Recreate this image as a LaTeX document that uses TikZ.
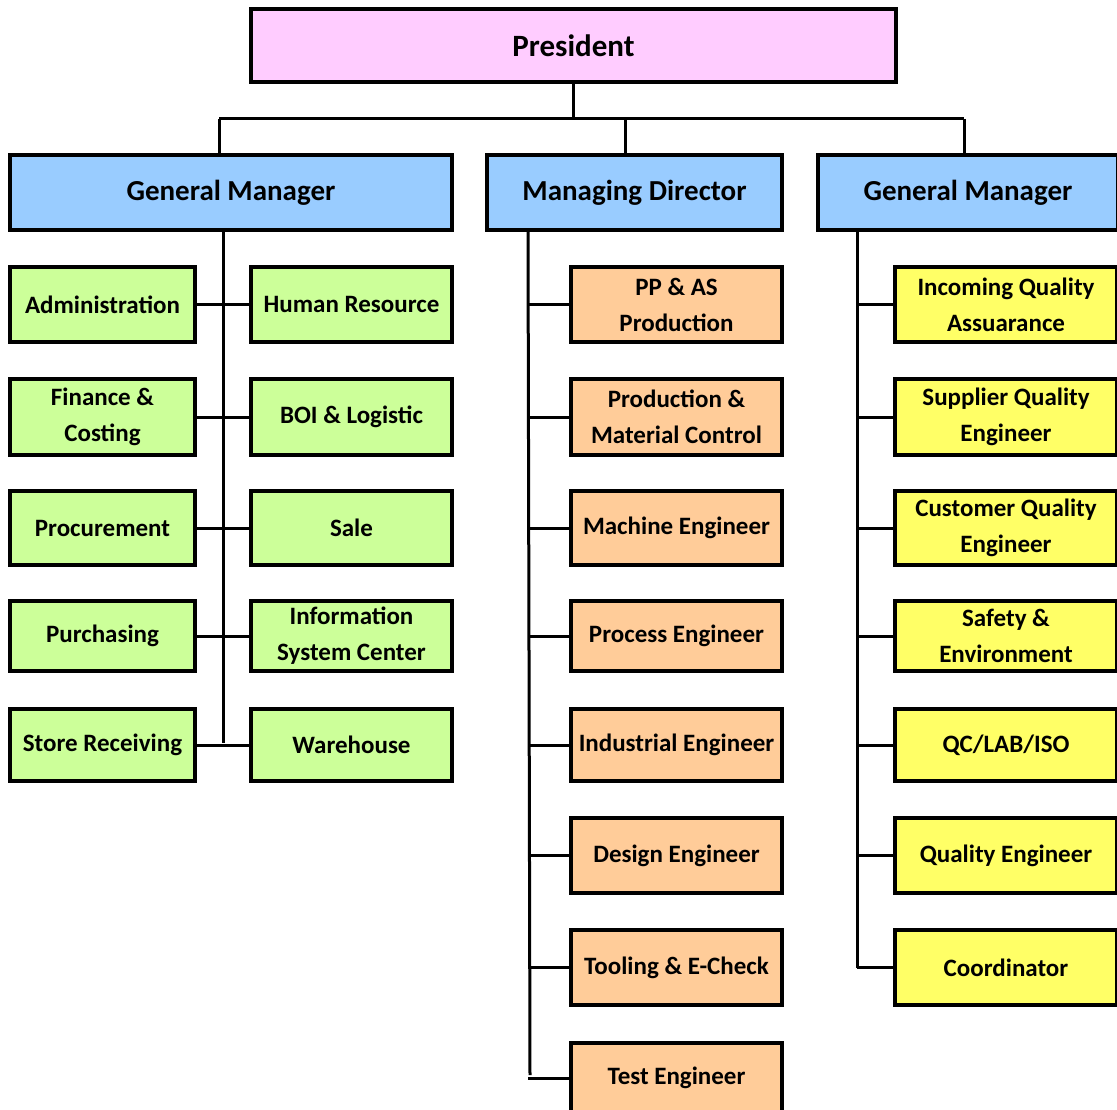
\documentclass[tikz,border=0pt]{standalone}
\usepackage{fontspec}
\setmainfont{Carlito}
\definecolor{cpink}{HTML}{FFCCFF}
\definecolor{cblue}{HTML}{99CCFF}
\definecolor{cgreen}{HTML}{CCFF99}
\definecolor{corange}{HTML}{FFCC99}
\definecolor{cyellow}{HTML}{FFFF66}
\tikzset{
  box/.style={draw=black, line width=3.5pt, rectangle, inner sep=0pt, align=center,
    font=\bfseries\fontsize{25}{36}\selectfont},
  topbox/.style={box, fill=cpink, font=\bfseries\fontsize{31}{36}\selectfont},
  headbox/.style={box, fill=cblue, font=\bfseries\fontsize{29}{36}\selectfont, minimum height=75pt},
  gbox/.style={box, fill=cgreen},
  obox/.style={box, fill=corange, minimum width=211pt},
  ybox/.style={box, fill=cyellow, minimum width=222pt},
  link/.style={line width=3pt, draw=black}
}
\begin{document}
\begin{tikzpicture}[x=1pt,y=-1pt]
\useasboundingbox (0,0) rectangle (1117,1110);
% top
\node[topbox, minimum width=645pt, minimum height=73pt] (pres) at (573.5,45.5) {President};
\node[headbox, minimum width=442pt] (gm1) at (231,192.5) {General Manager};
\node[headbox, minimum width=295pt] (md) at (634.5,192.5) {Managing Director};
\node[headbox, minimum width=300pt] (gm2) at (968,192.5) {General Manager};
% left column
\node[gbox, minimum width=185pt, minimum height=75pt] (adm) at (102.5,304.5) {Administration};
\node[gbox, minimum width=201pt, minimum height=75pt] (hr)  at (351.5,304.5) {Human Resource};
\node[gbox, minimum width=185pt, minimum height=76pt] (fin) at (102.5,417) {Finance \&\\Costing};
\node[gbox, minimum width=201pt, minimum height=76pt] (boi) at (351.5,417) {BOI \& Logistic};
\node[gbox, minimum width=185pt, minimum height=74pt] (proc) at (102.5,528) {Procurement};
\node[gbox, minimum width=201pt, minimum height=74pt] (sale) at (351.5,528) {Sale};
\node[gbox, minimum width=185pt, minimum height=70pt] (pur) at (102.5,636) {Purchasing};
\node[gbox, minimum width=201pt, minimum height=70pt] (isc) at (351.5,636) {Information\\System Center};
\node[gbox, minimum width=185pt, minimum height=72pt] (sto) at (102.5,745) {Store Receiving};
\node[gbox, minimum width=201pt, minimum height=72pt] (war) at (351.5,745) {Warehouse};
% middle column
\node[obox, minimum height=75pt] (pp)  at (676.5,304.5) {PP \& AS\\Production};
\node[obox, minimum height=76pt] (pmc) at (676.5,417) {Production \&\\Material Control};
\node[obox, minimum height=74pt] (mach) at (676.5,528) {Machine Engineer};
\node[obox, minimum height=70pt] (proe) at (676.5,636) {Process Engineer};
\node[obox, minimum height=72pt] (ind)  at (676.5,745) {Industrial Engineer};
\node[obox, minimum height=75pt] (des)  at (676.5,855.5) {Design Engineer};
\node[obox, minimum height=75pt] (tool) at (676.5,967.5) {Tooling \& E-Check};
\node[obox, minimum height=70pt] (test) at (676.5,1078) {Test Engineer};
% right column
\node[ybox, minimum height=75pt] (iqa) at (1006,304.5) {Incoming Quality\\Assuarance};
\node[ybox, minimum height=76pt] (sqe) at (1006,417) {Supplier Quality\\Engineer};
\node[ybox, minimum height=74pt] (cqe) at (1006,528) {Customer Quality\\Engineer};
\node[ybox, minimum height=70pt] (saf) at (1006,636) {Safety \&\\Environment};
\node[ybox, minimum height=72pt] (qc)  at (1006,745) {QC/LAB/ISO};
\node[ybox, minimum height=75pt] (qe)  at (1006,855.5) {Quality Engineer};
\node[ybox, minimum height=75pt] (coo) at (1006,967.5) {Coordinator};
% connectors top
\coordinate (barL) at (219,119);
\coordinate (barM) at (625,119);
\coordinate (barR) at (964,119);
\draw[link] (barL) -- (barR);
\draw[link] (pres.south) -- (pres.south |- barL);
\draw[link] (barL) -- (barL |- gm1.north);
\draw[link] (barM) -- (barM |- md.north);
\draw[link] (barR) -- (barR |- gm2.north);
% left spine
\coordinate (lsp) at (223,230);
\coordinate (lend) at (223,743);
\draw[link] (lsp) -- (lend);
\foreach \a/\b in {adm/hr, fin/boi, proc/sale, pur/isc, sto/war}
  \draw[link] (\a.east) -- (\b.west);
% middle spine
\coordinate (msp) at (528,230);
\coordinate (mend) at (530,1075);
\draw[link] (msp) -- (mend);
\foreach \n in {pp, pmc, mach, proe, ind, des, tool, test}
  \draw[link] (\n.west) -- (\n.west -| msp);
% right spine
\coordinate (rsp) at (857,230);
\coordinate (rend) at (857,967.5);
\draw[link] (rsp) -- (rend);
\foreach \n in {iqa, sqe, cqe, saf, qc, qe, coo}
  \draw[link] (\n.west) -- (\n.west -| rsp);
\end{tikzpicture}
\end{document}
